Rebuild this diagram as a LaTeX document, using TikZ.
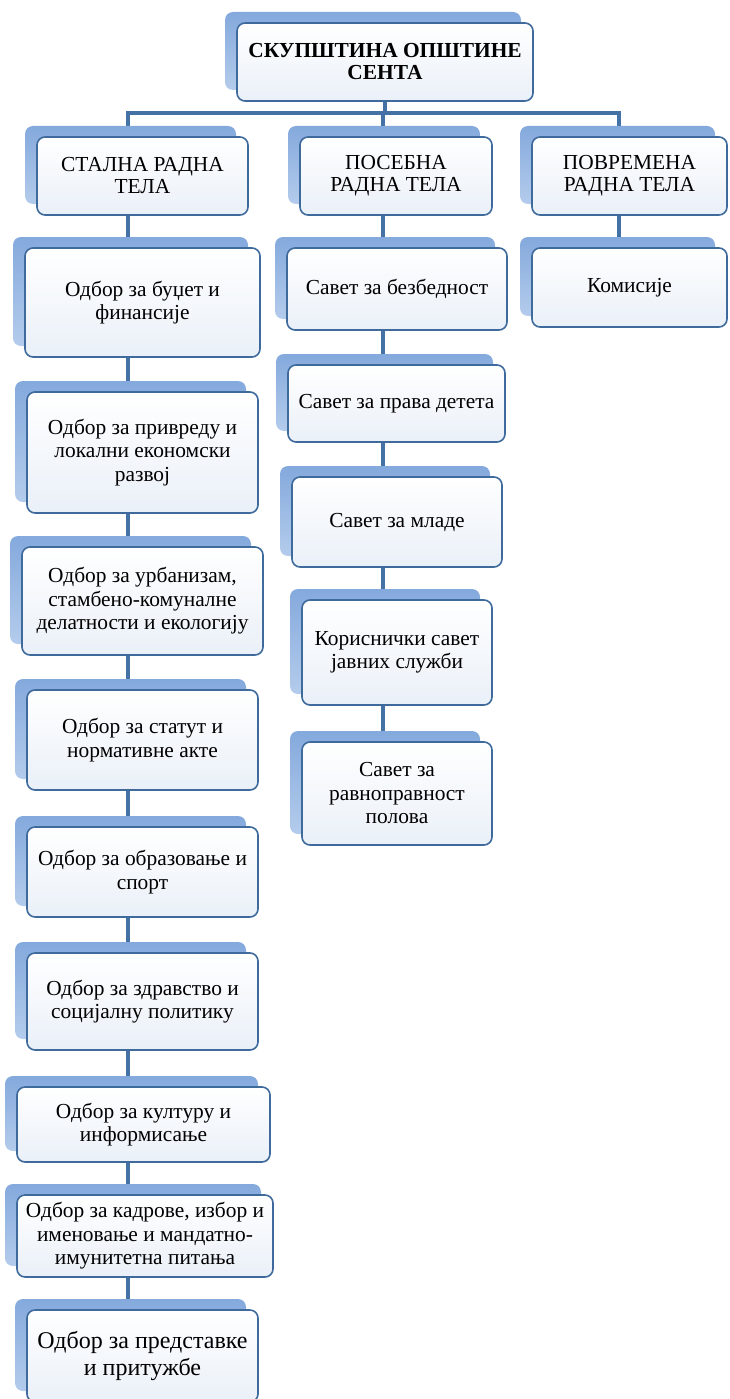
\documentclass[tikz,border=0pt]{standalone}
\usepackage{fontspec}
\setmainfont{Liberation Serif}
\usetikzlibrary{shadows,backgrounds}
\definecolor{boxline}{HTML}{3E6A9C}
\definecolor{linkblue}{HTML}{4472A4}
\definecolor{shadowtop}{HTML}{84A9DC}
\definecolor{shadowbot}{HTML}{B4CCEC}
\definecolor{boxbot}{HTML}{EAF0F8}
\tikzset{
  unit/.style={draw=boxline, line width=1.6pt, rounded corners=8pt,
    top color=white, bottom color=boxbot, align=center, inner sep=2pt,
    font=\fontsize{21.4}{23.5}\selectfont,
    general shadow={top color=shadowtop, bottom color=shadowbot,
      draw=none, shadow xshift=-12pt, shadow yshift=11pt}},
  link/.style={draw=linkblue, line width=3.6pt}
}
\begin{document}
\begin{tikzpicture}[x=1pt,y=-1pt]
\useasboundingbox (0,0) rectangle (730,1399);
% vrh
\node[unit, minimum width=296pt, minimum height=78pt, font=\fontsize{21.4}{22}\selectfont\bfseries] (top) at (385,62) {СКУПШТИНА ОПШТИНЕ\\СЕНТА};
% zaglavlja kolona
\node[unit, minimum width=211pt, minimum height=78pt, font=\fontsize{21.4}{22}\selectfont] (h1) at (142.5,176) {СТАЛНА РАДНА\\ТЕЛА};
\node[unit, minimum width=192pt, minimum height=78pt, font=\fontsize{21.4}{22}\selectfont] (h2) at (396,176) {ПОСЕБНА\\РАДНА ТЕЛА};
\node[unit, minimum width=195pt, minimum height=78pt, font=\fontsize{21.4}{22}\selectfont] (h3) at (629.5,176) {ПОВРЕМЕНА\\РАДНА ТЕЛА};
% stalna radna tela
\node[unit, minimum width=235pt, minimum height=109pt] (o1) at (142.5,302.5) {Одбор за буџет и\\финансије};
\node[unit, minimum width=231pt, minimum height=121pt] (o2) at (142.5,452.5) {Одбор за привреду и\\локални економски\\развој};
\node[unit, minimum width=241pt, minimum height=108pt] (o3) at (142.5,601) {Одбор за урбанизам,\\стамбено-комуналне\\делатности и екологију};
\node[unit, minimum width=231pt, minimum height=100pt] (o4) at (142.5,740) {Одбор за статут и\\нормативне акте};
\node[unit, minimum width=231pt, minimum height=90pt] (o5) at (142.5,872) {Одбор за образовање и\\спорт};
\node[unit, minimum width=231pt, minimum height=97pt] (o6) at (142.5,1001.5) {Одбор за здравство и\\социјалну политику};
\node[unit, minimum width=253pt, minimum height=75pt] (o7) at (143.5,1124.5) {Одбор за културу и\\информисање};
\node[unit, minimum width=256pt, minimum height=82pt] (o8) at (145,1236) {Одбор за кадрове, избор и\\именовање и мандатно-\\имунитетна питања};
\node[unit, minimum width=231pt, minimum height=92pt, font=\fontsize{24}{27}\selectfont] (o9) at (142.5,1356) {Одбор за представке\\и притужбе};
% posebna radna tela
\node[unit, minimum width=220pt, minimum height=82pt] (s1) at (397,289) {Савет за безбедност};
\node[unit, minimum width=217pt, minimum height=77pt] (s2) at (396.5,403.5) {Савет за права детета};
\node[unit, minimum width=210pt, minimum height=90pt] (s3) at (397,522) {Савет за младе};
\node[unit, minimum width=190pt, minimum height=105pt] (s4) at (397,652.5) {Кориснички савет\\јавних служби};
\node[unit, minimum width=190pt, minimum height=103pt] (s5) at (397,793.5) {Савет за\\равноправност\\полова};
% povremena radna tela
\node[unit, minimum width=195pt, minimum height=79pt] (k1) at (629.5,287.5) {Комисије};
% veze
\coordinate (bus) at (385,113);
\coordinate (bus1) at (128,113);
\coordinate (bus2) at (383,113);
\coordinate (bus3) at (619,113);
\begin{scope}[on background layer]
\draw[link] (top.south) -- (bus);
\draw[link, line cap=rect] (bus1) -- (bus3);
\draw[link] (bus1) -- (bus1 |- o9.north);
\draw[link] (bus2) -- (bus2 |- s5.north);
\draw[link] (bus3) -- (bus3 |- k1.north);
\end{scope}
\end{tikzpicture}
\end{document}
